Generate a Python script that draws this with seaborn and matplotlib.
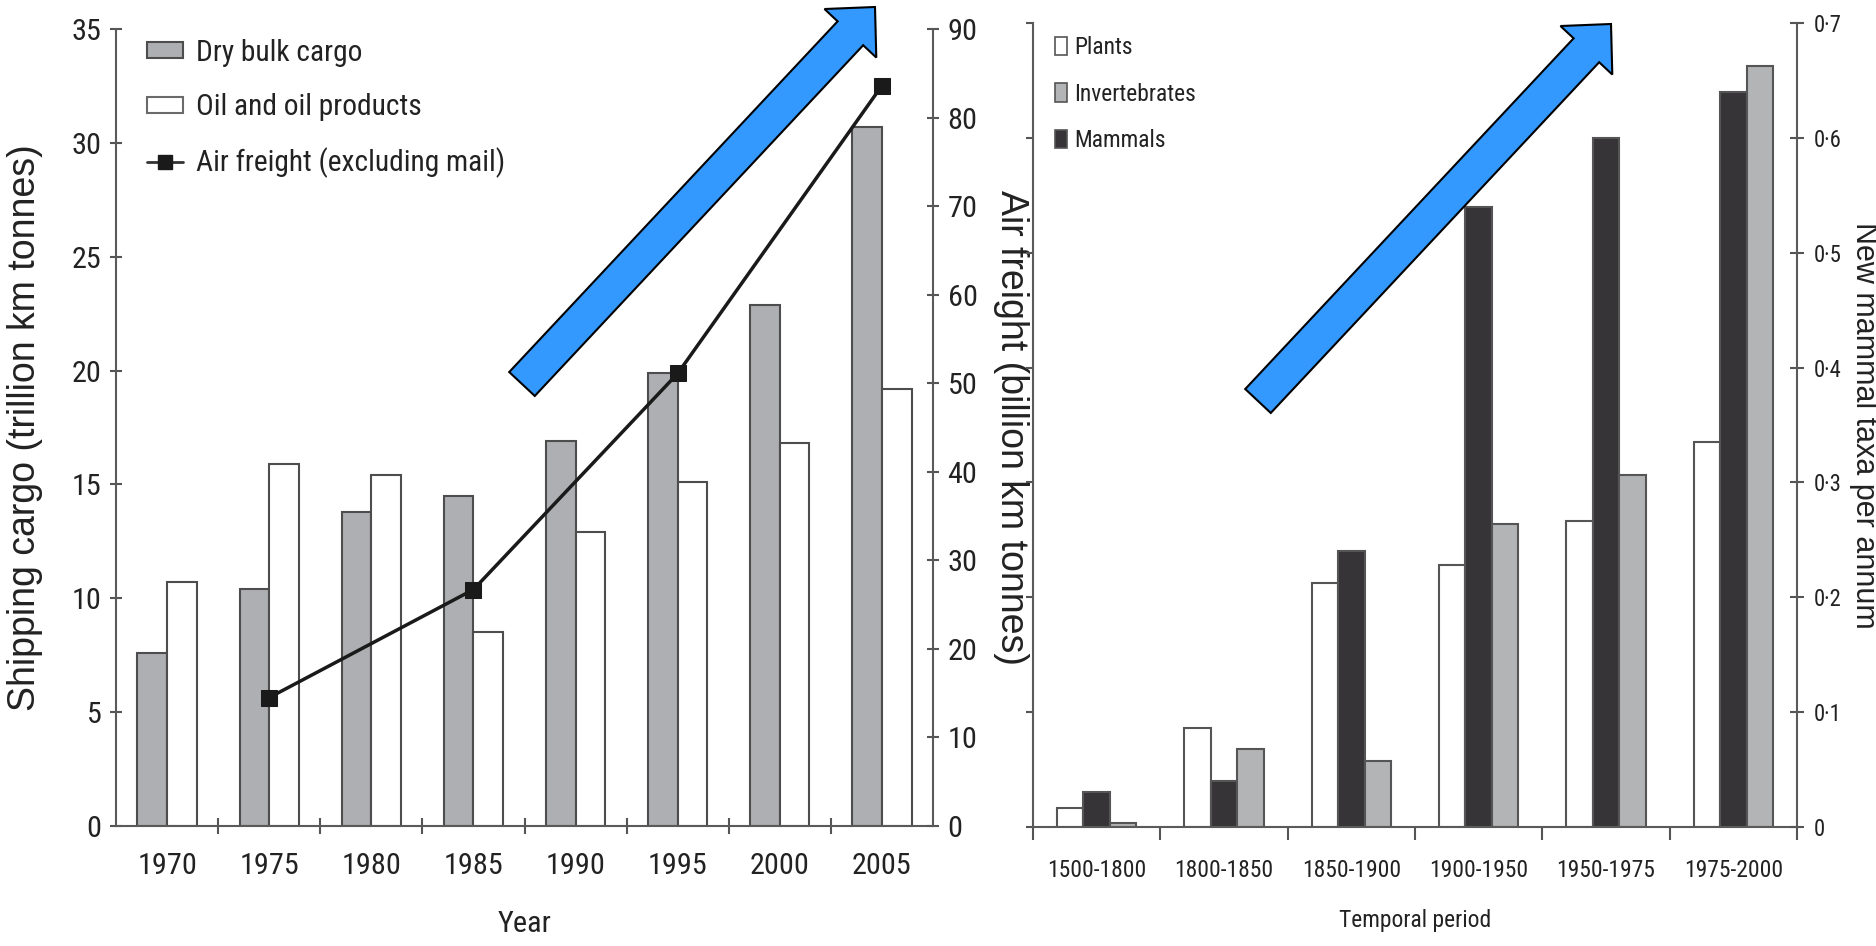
import matplotlib
matplotlib.use('Agg')
import matplotlib.pyplot as plt
from matplotlib import font_manager as fm
from matplotlib.patches import Patch, FancyArrow
from matplotlib.lines import Line2D
from matplotlib.transforms import IdentityTransform
import numpy as np
import pandas as pd
import seaborn as sns

# left panel: shipping cargo (trillion km tonnes) and air freight (billion km tonnes)
years = ['1970', '1975', '1980', '1985', '1990', '1995', '2000', '2005']
dry_bulk = [7.6, 10.4, 13.8, 14.5, 16.9, 19.9, 22.9, 30.7]
oil = [10.7, 15.9, 15.4, 8.5, 12.9, 15.1, 16.8, 19.2]
air_years = ['1975', '1985', '1995', '2005']
air_freight = [14.5, 26.7, 51.1, 83.6]

# right panel: new taxa per annum
periods = ['1500-1800', '1800-1850', '1850-1900', '1900-1950', '1950-1975', '1975-2000']
plants = [0.016, 0.086, 0.212, 0.228, 0.266, 0.335]
mammals = [0.030, 0.040, 0.240, 0.540, 0.600, 0.640]
invertebrates = [0.003, 0.068, 0.057, 0.264, 0.306, 0.663]

sns.set_style('ticks')

# the source figure uses a narrow Helvetica; take a condensed sans if one is
# installed (not DejaVu, which is as wide as Arial), else Liberation Sans
prefs = [('liberation sans narrow', 1.15), ('roboto condensed', 1.09),
         ('noto sans', 1.05), ('open sans', 1.05)]
cond, k = None, 1.0
for key, fac in prefs:
    for f in fm.fontManager.ttflist:
        nm = f.name.lower()
        if not nm.startswith(key.split(' condensed')[0].split(' narrow')[0]):
            continue
        if f.style != 'normal' or any(w in nm for w in ('extra', 'ultra', 'semi', 'mono')):
            continue
        if str(f.weight) not in ('400', 'normal', 'regular'):
            continue
        if 'narrow' in nm or 'condensed' in nm or f.stretch == 'condensed':
            cond, k = f, fac
            break
    if cond is not None:
        break

wide = ['Liberation Sans', 'DejaVu Sans']
if cond is not None:
    plt.rcParams['font.family'] = [cond.name] + wide
    plt.rcParams['font.stretch'] = cond.stretch
else:
    plt.rcParams['font.family'] = wide
plt.rcParams['text.color'] = '#222222'
plt.rcParams['axes.labelcolor'] = '#222222'
plt.rcParams['xtick.color'] = '#555555'
plt.rcParams['ytick.color'] = '#555555'
plt.rcParams['xtick.labelcolor'] = '#222222'
plt.rcParams['ytick.labelcolor'] = '#222222'

W, H = 1876, 946
fig = plt.figure(figsize=(W / 100, H / 100), dpi=100)
spine_col = '#5a5a5a'


def style_spines(a, sides):
    for s in ['left', 'right', 'top', 'bottom']:
        a.spines[s].set_visible(s in sides)
        a.spines[s].set_color(spine_col)
        a.spines[s].set_linewidth(1.5)


# ---------------- left panel ----------------
ax = fig.add_axes([116 / W, 1 - 826 / H, (933 - 116) / W, (826 - 29) / H])
ship = pd.DataFrame({
    'year': years * 2,
    'value': dry_bulk + oil,
    'series': ['Dry bulk cargo'] * len(years) + ['Oil and oil products'] * len(years),
})
ship_pal = {'Dry bulk cargo': '#aeafb2', 'Oil and oil products': '#ffffff'}
sns.barplot(data=ship, x='year', y='value', hue='series', order=years,
            hue_order=list(ship_pal), palette=ship_pal, width=0.58,
            edgecolor='#4d4d4d', linewidth=1.5, saturation=1, ax=ax, legend=False)
ax.set_xlim(-0.5, len(years) - 0.5)
ax.set_ylim(0, 35)
ax.set_yticks(np.arange(0, 36, 5))
ax.set_xticks(np.arange(len(years)))
ax.set_xticklabels(years)
ax.set_xticks(np.arange(0.5, len(years) - 1, 1), minor=True)
ax.tick_params(axis='x', which='major', length=0, pad=19, labelsize=20 * k)
ax.tick_params(axis='x', which='minor', length=11, width=1.5, direction='inout')
ax.tick_params(axis='y', length=9, width=1.5, direction='inout', pad=6, labelsize=20 * k)
style_spines(ax, ['left', 'bottom'])
ax.set_xlabel('Year', fontsize=20 * k)
ax.xaxis.set_label_coords(0.5, -0.106)
ax.xaxis.label.set_va('top')
ax.set_ylabel('Shipping cargo (trillion km tonnes)', fontsize=27, family=wide, va='center')
ax.yaxis.set_label_coords(-0.111, 0.5)

ax2 = ax.twinx()
air_pos = [years.index(y) for y in air_years]
sns.lineplot(x=air_pos, y=air_freight, ax=ax2, color='#1a1a1a', linewidth=2.5,
             marker='s', markersize=11, markeredgecolor='#1a1a1a')
ax2.set_xlim(-0.5, len(years) - 0.5)
ax2.set_ylim(0, 90)
ax2.set_yticks(np.arange(0, 91, 10))
ax2.tick_params(axis='y', length=9, width=1.5, direction='inout', pad=6, labelsize=20 * k)
style_spines(ax2, ['right'])
ax2.set_ylabel('Air freight (billion km tonnes)', fontsize=27, family=wide,
               rotation=270, va='center')
ax2.yaxis.set_label_coords(1.0955, 0.5)

leg_fs = 19.5 * k
left_handles = [
    Patch(facecolor='#aeafb2', edgecolor='#4d4d4d', linewidth=1.5),
    Patch(facecolor='#ffffff', edgecolor='#6a6a6a', linewidth=1.5),
    Line2D([], [], color='#333333', linewidth=2, marker='s', markersize=10,
           markerfacecolor='#1a1a1a', markeredgecolor='#1a1a1a'),
]
ax2.legend(left_handles, ['Dry bulk cargo', 'Oil and oil products', 'Air freight (excluding mail)'],
           loc='upper left', bbox_to_anchor=(0.038, 0.988), frameon=False, fontsize=leg_fs,
           handlelength=36 / (leg_fs * 100 / 72), handleheight=0.45,
           handletextpad=13 / (leg_fs * 100 / 72), labelspacing=0.9,
           borderpad=0, borderaxespad=0)

# ---------------- right panel ----------------
bx = fig.add_axes([1033 / W, 1 - 826.7 / H, (1797 - 1033) / W, (826.7 - 23.3) / H])
taxa = pd.DataFrame({
    'period': periods * 3,
    'value': plants + mammals + invertebrates,
    'group': ['Plants'] * 6 + ['Mammals'] * 6 + ['Invertebrates'] * 6,
})
taxa_pal = {'Plants': '#ffffff', 'Mammals': '#363436', 'Invertebrates': '#b3b4b6'}
sns.barplot(data=taxa, x='period', y='value', hue='group', order=periods,
            hue_order=['Plants', 'Mammals', 'Invertebrates'], palette=taxa_pal,
            width=0.625, edgecolor='#555555', linewidth=1.5, saturation=1, ax=bx, legend=False)
bx.set_xlim(-0.5, len(periods) - 0.5)
bx.set_ylim(0, 0.7)
yt = np.round(np.arange(0, 0.71, 0.1), 1)
bx.set_yticks(yt)
bx.set_xticks(np.arange(len(periods)))
bx.set_xticklabels(periods)
bx.set_xticks(np.arange(-0.5, len(periods), 1), minor=True)
bx.tick_params(axis='x', which='major', length=0, pad=23, labelsize=15.5 * k)
bx.tick_params(axis='x', which='minor', length=9, width=1.5, direction='out')
bx.tick_params(axis='y', length=5, width=1.5, direction='out', labelleft=False)
style_spines(bx, ['left', 'bottom'])
bx.set_xlabel('Temporal period', fontsize=15.5 * k)
bx.xaxis.set_label_coords(0.5, -0.103)
bx.xaxis.label.set_va('top')
bx.set_ylabel('')

bx2 = bx.twinx()
bx2.set_ylim(0, 0.7)
bx2.set_yticks(yt)
bx2.set_yticklabels(['0'] + [f'{v:.1f}'.replace('.', '\u00b7') for v in yt[1:]])
bx2.tick_params(axis='y', length=10, width=1.5, direction='inout', pad=7, labelsize=15 * k)
style_spines(bx2, ['right'])
bx2.set_ylabel('New mammal taxa per annum', fontsize=22, family=wide, rotation=270, va='center')
bx2.yaxis.set_label_coords(1.0875, 0.5)

rleg_fs = 15.5 * k
right_handles = [Patch(facecolor=taxa_pal[n], edgecolor='#555555', linewidth=1.2)
                 for n in ['Plants', 'Invertebrates', 'Mammals']]
bx2.legend(right_handles, ['Plants', 'Invertebrates', 'Mammals'],
           loc='upper left', bbox_to_anchor=(0.029, 0.984), frameon=False, fontsize=rleg_fs,
           handlelength=12 / (rleg_fs * 100 / 72), handleheight=0.84,
           handletextpad=7 / (rleg_fs * 100 / 72), labelspacing=1.0,
           borderpad=0, borderaxespad=0)

# trend arrows drawn over both panels (pixel coordinates)
for tail_x, tail_y in [(522, 384), (1258, 401)]:
    fig.add_artist(FancyArrow(tail_x, H - tail_y, 353, 377, width=35, head_width=71,
                              head_length=36, length_includes_head=True,
                              facecolor='#3399ff', edgecolor='black', linewidth=1.5,
                              transform=IdentityTransform(), zorder=5))

fig.savefig('out.png', dpi=100)
